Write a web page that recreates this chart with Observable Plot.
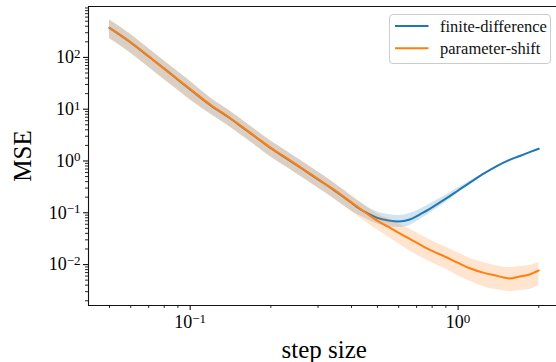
<!DOCTYPE html>
<html>
<head>
<meta charset="utf-8">
<script src="https://cdn.jsdelivr.net/npm/d3@7"></script>
<script src="https://cdn.jsdelivr.net/npm/@observablehq/plot@0.6"></script>
<style>
  html, body { margin: 0; padding: 0; background: #fff; }
  #wrap { position: relative; width: 556px; height: 362px; overflow: hidden; }
  #legend { position: absolute; left: 0; top: 0; }
</style>
</head>
<body>
<div id="wrap"></div>
<script>
// ---- data ----
const stepSize = [0.05, 0.06, 0.07, 0.08, 0.09, 0.1, 0.12, 0.14, 0.16, 0.18, 0.2, 0.23, 0.26, 0.3, 0.34, 0.38, 0.42, 0.46, 0.5, 0.55, 0.6, 0.66, 0.73, 0.8, 0.9, 1.0, 1.1, 1.25, 1.4, 1.55, 1.7, 1.85, 2.0];

// finite-difference
const fdMean = [372, 194, 104, 60.8, 37.1, 24.1, 11.6, 6.85, 4.12, 2.63, 1.76, 1.10, 0.725, 0.441, 0.287, 0.190, 0.129, 0.0969, 0.0794, 0.0710, 0.0679, 0.0743, 0.0969, 0.1277, 0.187, 0.2694, 0.3744, 0.576, 0.808, 1.041, 1.249, 1.479, 1.72];
const fdLow  = [232, 121, 64.8, 37.5, 23.3, 15.2, 7.85, 4.66, 2.80, 1.79, 1.19, 0.745, 0.492, 0.300, 0.196, 0.130, 0.0925, 0.0742, 0.0608, 0.0544, 0.0520, 0.0569, 0.0776, 0.1045, 0.160, 0.241, 0.350, 0.5636, 0.791, 1.019, 1.222, 1.447, 1.683];
const fdHigh = [525, 276, 147, 85.2, 52.6, 34.1, 15.9, 9.35, 5.64, 3.60, 2.42, 1.52, 1.00, 0.610, 0.395, 0.258, 0.172, 0.127, 0.104, 0.0927, 0.0887, 0.0970, 0.121, 0.156, 0.2186, 0.301, 0.400, 0.589, 0.826, 1.064, 1.276, 1.511, 1.758];

// parameter-shift
const psMean = [374, 196, 105, 60.2, 37.6, 24.5, 11.8, 6.92, 4.19, 2.66, 1.79, 1.12, 0.739, 0.449, 0.292, 0.192, 0.132, 0.0935, 0.0695, 0.0532, 0.0407, 0.0312, 0.0234, 0.0183, 0.0140, 0.01074, 0.0086, 0.0069, 0.00605, 0.0054, 0.0059, 0.00644, 0.0077];
const psLow  = [229, 120, 64.4, 36.9, 23.1, 15.0, 7.91, 4.64, 2.81, 1.78, 1.20, 0.751, 0.495, 0.301, 0.196, 0.129, 0.0885, 0.0627, 0.0466, 0.0341, 0.0250, 0.0183, 0.0137, 0.0107, 0.00821, 0.00602, 0.00482, 0.0037, 0.00325, 0.00303, 0.00317, 0.00331, 0.00395];
const psHigh = [534, 280, 150, 85.9, 53.7, 35.0, 16.1, 9.45, 5.72, 3.63, 2.44, 1.53, 1.01, 0.613, 0.399, 0.262, 0.180, 0.128, 0.0949, 0.0759, 0.0607, 0.0486, 0.0365, 0.0285, 0.0218, 0.01674, 0.0134, 0.0108, 0.00943, 0.0088, 0.0092, 0.0096, 0.0110];

const seriesNames = ["finite-difference", "parameter-shift"];
const seriesColors = ["#1f77b4", "#ff7f0e"];

// ticks
const xMajorTicks = [0.1, 1];
const xTickLabels = ["10^-1", "10^0"];
const xMinorTicks = [0.05, 0.06, 0.07, 0.08, 0.09, 0.2, 0.3, 0.4, 0.5, 0.6, 0.7, 0.8, 0.9, 2];
const yMajorTicks = [0.01, 0.1, 1, 10, 100];
const yTickLabels = ["10^-2", "10^-1", "10^0", "10^1", "10^2"];
const yMinorTicks = [0.002, 0.003, 0.004, 0.005, 0.006, 0.007, 0.008, 0.009,
  0.02, 0.03, 0.04, 0.05, 0.06, 0.07, 0.08, 0.09,
  0.2, 0.3, 0.4, 0.5, 0.6, 0.7, 0.8, 0.9,
  2, 3, 4, 5, 6, 7, 8, 9,
  20, 30, 40, 50, 60, 70, 80, 90,
  200, 300, 400, 500, 600, 700, 800, 900];

const xDomain = [0.04174, 2.4];
const yDomain = [0.00162, 962];

const rows = stepSize.map((s, i) => ({
  s, fd: fdMean[i], fdLo: fdLow[i], fdHi: fdHigh[i],
  ps: psMean[i], psLo: psLow[i], psHi: psHigh[i]
}));

const serif = "'Liberation Serif', 'DejaVu Serif', serif";
const spine = "#111";

const chart = Plot.plot({
  width: 556,
  height: 362,
  marginLeft: 88,
  marginTop: 6,
  marginBottom: 57,
  marginRight: -3.5,
  style: { fontFamily: serif, fontSize: "18px", background: "#fff", overflow: "hidden" },
  x: { type: "log", domain: xDomain },
  y: { type: "log", domain: yDomain },
  marks: [
    Plot.areaY(rows, { x: "s", y1: "fdLo", y2: "fdHi", fill: seriesColors[0], fillOpacity: 0.2, curve: "monotone-x" }),
    Plot.line(rows, { x: "s", y: "fd", stroke: seriesColors[0], strokeWidth: 2, curve: "monotone-x" }),
    Plot.areaY(rows, { x: "s", y1: "psLo", y2: "psHi", fill: seriesColors[1], fillOpacity: 0.2, curve: "monotone-x" }),
    Plot.line(rows, { x: "s", y: "ps", stroke: seriesColors[1], strokeWidth: 2, curve: "monotone-x" }),
    // frame (left, bottom, top)
    Plot.ruleX([xDomain[0]], { stroke: spine, strokeWidth: 1.1 }),
    Plot.ruleY([yDomain[0]], { stroke: spine, strokeWidth: 1.1 }),
    Plot.ruleY([yDomain[1]], { stroke: spine, strokeWidth: 1.1 }),
    // axes
    Plot.axisY(yMinorTicks, { tickSize: 3, tickFormat: () => "", label: null, stroke: spine, strokeWidth: 0.9 }),
    Plot.axisY(yMajorTicks, {
      tickSize: 5, tickPadding: 3, stroke: spine, strokeWidth: 1.1,
      tickFormat: d => yTickLabels[yMajorTicks.indexOf(d)],
      label: "MSE", labelAnchor: "center", labelOffset: 75, labelArrow: "none"
    }),
    Plot.axisX(xMinorTicks, { tickSize: 3, tickFormat: () => "", label: null, stroke: spine, strokeWidth: 0.9 }),
    Plot.axisX(xMajorTicks, {
      tickSize: 5, tickPadding: 5, stroke: spine, strokeWidth: 1.1,
      tickFormat: d => xTickLabels[xMajorTicks.indexOf(d)],
      label: "step size", labelAnchor: "center", labelOffset: 52, labelArrow: "none"
    })
  ]
});

// superscript exponents in tick labels
d3.select(chart).selectAll("text").each(function () {
  const t = d3.select(this);
  const s = this.textContent;
  const m = /^10\^(.+)$/.exec(s);
  if (!m) return;
  const exp = m[1].replace("-", "\u2212");
  t.text(null);
  t.append("tspan").text("10");
  t.append("tspan").attr("dy", "-0.42em").attr("font-size", "13px").text(exp);
});
d3.select(chart).selectAll('g[aria-label="x-axis label"] text, g[aria-label="y-axis label"] text')
  .attr("font-size", "25px");

const wrap = document.getElementById("wrap");
wrap.appendChild(chart);

// legend overlay
const lg = d3.select(wrap).append("svg").attr("id", "legend")
  .attr("width", 556).attr("height", 362)
  .style("font-family", serif).style("font-size", "16.5px");
lg.append("rect").attr("x", 389.5).attr("y", 14.5).attr("width", 161).attr("height", 49)
  .attr("rx", 3.5).attr("fill", "rgba(255,255,255,0.8)").attr("stroke", "#cccccc");
seriesNames.forEach((name, i) => {
  const cy = 26 + i * 22.3;
  lg.append("line").attr("x1", 395).attr("x2", 428.5).attr("y1", cy).attr("y2", cy)
    .attr("stroke", seriesColors[i]).attr("stroke-width", 2);
  lg.append("text").attr("x", 440).attr("y", cy + 5.5).attr("fill", "#111").text(name);
});
</script>
</body>
</html>
